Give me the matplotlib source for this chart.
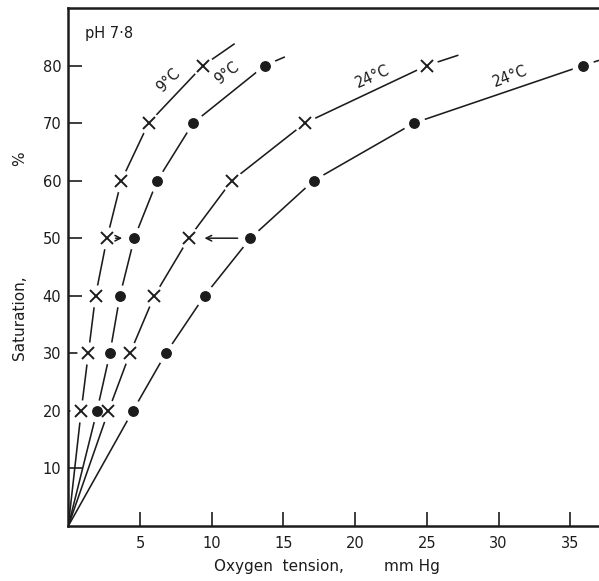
import numpy as np
import matplotlib
matplotlib.use("Agg")
import matplotlib.pyplot as plt

# saturation levels (%) measured for every curve
sat = [20, 30, 40, 50, 60, 70, 80]

# oxygen tension (mm Hg) at each saturation level
cross_9 = [0.9, 1.4, 1.9, 2.7, 3.7, 5.6, 9.4]
dot_9 = [2.0, 2.9, 3.6, 4.6, 6.2, 8.7, 13.7]
cross_24 = [2.8, 4.3, 6.0, 8.4, 11.4, 16.5, 25.0]
dot_24 = [4.5, 6.8, 9.5, 12.7, 17.1, 24.1, 35.9]

# where each hand-drawn curve trails off past its last point
tail_x = [11.6, 15.1, 27.2, 37.0]
tail_y = [83.8, 81.5, 81.8, 80.9]

x_ticks = [5, 10, 15, 20, 25, 30, 35]
y_ticks = [10, 20, 30, 40, 50, 60, 70, 80]

ink = "#1c1c1c"
plt.rcParams["font.family"] = ["DejaVu Sans"]

W, H = 599, 581
fig = plt.figure(figsize=(W / 100, H / 100), dpi=100)
ax = fig.add_axes([0.114, 0.0947, 0.886, 0.8916])

series = [(cross_9, "x"), (dot_9, "o"), (cross_24, "x"), (dot_24, "o")]
for i, (xs, mk) in enumerate(series):
    lx = [0] + xs + [tail_x[i]]
    ly = [0] + sat + [tail_y[i]]
    ax.plot(lx, ly, color=ink, lw=1.15, zorder=1, solid_capstyle="butt")
    # white halo so the curve breaks around each point
    ax.plot(xs, sat, ls="none", marker="o", ms=16, mfc="white", mec="none", zorder=2)

for xs, mk in series:
    if mk == "x":
        ax.plot(xs, sat, ls="none", marker="x", ms=9, mew=1.4, color=ink, zorder=3)
    else:
        ax.plot(xs, sat, ls="none", marker="o", ms=6.8, color=ink, zorder=3)

# arrows at 50 % saturation
ax.annotate("", xy=(3.95, 50), xytext=(3.1, 50),
            arrowprops=dict(arrowstyle="->", color=ink, lw=1.1), zorder=4)
ax.annotate("", xy=(9.3, 50), xytext=(12.0, 50),
            arrowprops=dict(arrowstyle="->", color=ink, lw=1.1), zorder=4)

lab = dict(fontsize=10.5, color=ink, ha="center", va="center", rotation_mode="anchor")
ax.text(6.95, 77.4, "9°C", rotation=45, **lab)
ax.text(11.07, 78.6, "9°C", rotation=38, **lab)
ax.text(21.2, 78.1, "24°C", rotation=24, **lab)
ax.text(30.8, 78.1, "24°C", rotation=21, **lab)
ax.text(1.2, 85.6, "pH 7·8", fontsize=10.5, color=ink, ha="left", va="center")

ax.set_xlim(0, 37.0)
ax.set_ylim(0, 90)
ax.set_xticks(x_ticks)
ax.set_yticks(y_ticks)
ax.tick_params(direction="in", length=10, width=1.2, colors=ink, labelsize=10.5)
ax.tick_params(axis="x", pad=7)
ax.tick_params(axis="y", pad=5)
for side in ["left", "bottom", "top"]:
    ax.spines[side].set_linewidth(1.8)
    ax.spines[side].set_color(ink)
ax.spines["right"].set_visible(False)

# axis titles, split in two pieces each with wide gaps
fig.text(279 / W, 1 - 566 / H, "Oxygen  tension,", fontsize=11, color=ink, ha="center", va="center")
fig.text(412 / W, 1 - 566 / H, "mm Hg", fontsize=11, color=ink, ha="center", va="center")
fig.text(20 / W, 1 - 318 / H, "Saturation,", fontsize=11, color=ink, ha="center", va="center", rotation=90)
fig.text(20 / W, 1 - 159 / H, "%", fontsize=11, color=ink, ha="center", va="center", rotation=90)

fig.savefig("out.png", dpi=100)
